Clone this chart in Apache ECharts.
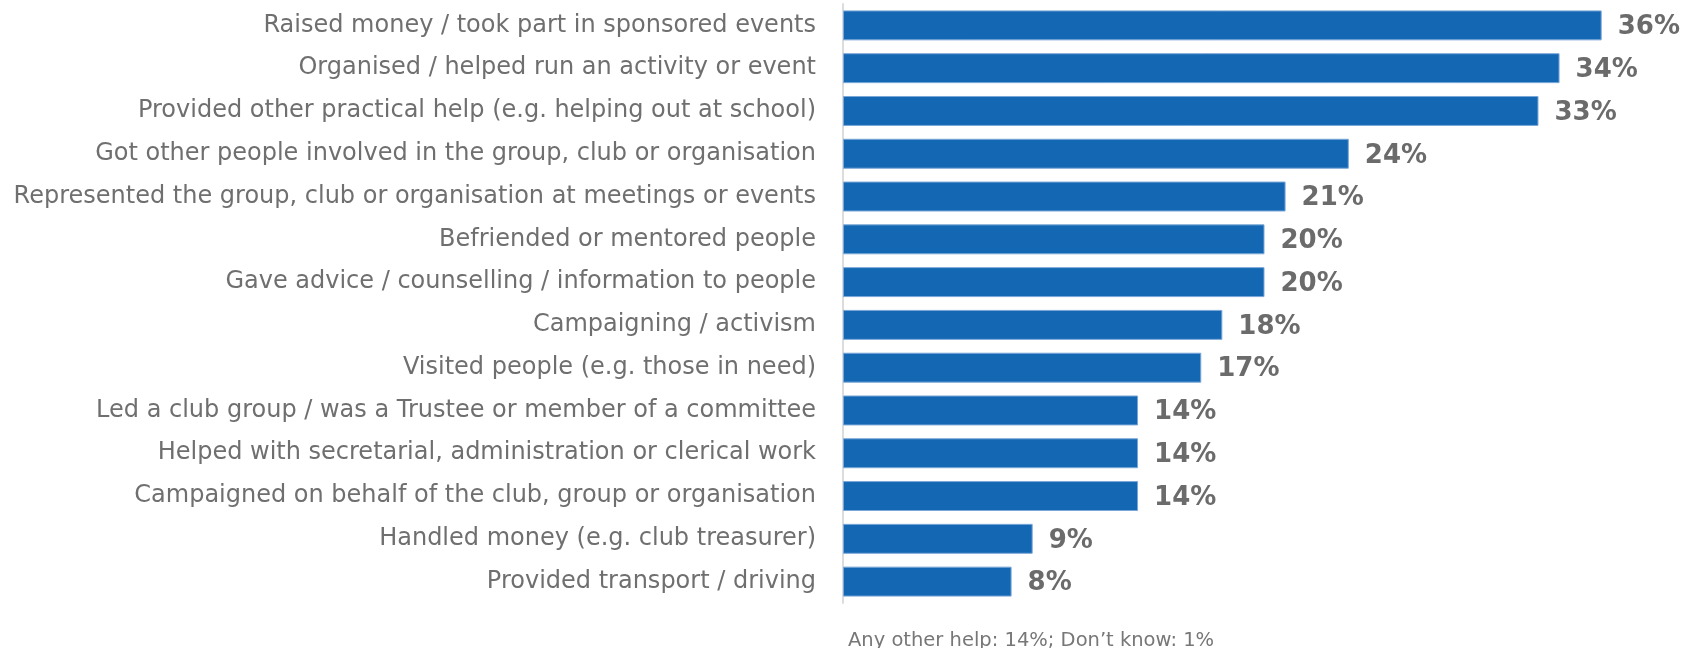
<!DOCTYPE html>
<html>
<head>
<meta charset="utf-8">
<script src="https://cdn.jsdelivr.net/npm/echarts@6/dist/echarts.min.js"></script>
<style>
  html, body { margin: 0; padding: 0; background: #fff; }
  #chart { width: 1688px; height: 648px; }
</style>
</head>
<body>
<div id="chart"></div>
<script>
// Ways of helping, listed top to bottom
const categories = [
  'Raised money / took part in sponsored events',
  'Organised / helped run an activity or event',
  'Provided other practical help (e.g. helping out at school)',
  'Got other people involved in the group, club or organisation',
  'Represented the group, club or organisation at meetings or events',
  'Befriended or mentored people',
  'Gave advice / counselling / information to people',
  'Campaigning / activism',
  'Visited people (e.g. those in need)',
  'Led a club group / was a Trustee or member of a committee',
  'Helped with secretarial, administration or clerical work',
  'Campaigned on behalf of the club, group or organisation',
  'Handled money (e.g. club treasurer)',
  'Provided transport / driving'
];
// Share of respondents (%)
const values = [36, 34, 33, 24, 21, 20, 20, 18, 17, 14, 14, 14, 9, 8];
const footnote = 'Any other help: 14%; Don\u2019t know: 1%';

const chart = echarts.init(document.getElementById('chart'));
chart.setOption({
  animation: false,
  textStyle: { fontFamily: 'DejaVu Sans' },
  grid: { left: 843, right: 2, top: 4, bottom: 45, containLabel: false },
  xAxis: {
    type: 'value', min: 0, max: 40,
    show: false
  },
  yAxis: {
    type: 'category',
    data: categories,
    inverse: true,
    axisLine: { show: true, lineStyle: { color: '#dcdcdc', width: 2 } },
    axisTick: { show: false },
    axisLabel: { color: '#6f6f6f', fontSize: 24, margin: 27, fontFamily: 'DejaVu Sans' }
  },
  series: [{
    type: 'bar',
    data: values,
    barWidth: '70%',
    itemStyle: { color: '#1468b3', borderColor: '#7aa7d8', borderWidth: 1 },
    label: {
      show: true, position: 'right', distance: 16, offset: [0, 2],
      formatter: '{c}%',
      color: '#6b6b6b', fontWeight: 'bold', fontSize: 26, fontFamily: 'DejaVu Sans'
    }
  }],
  graphic: [{
    type: 'text',
    left: 848, top: 631,
    style: { text: footnote, fill: '#777777', fontSize: 19.5, fontFamily: 'DejaVu Sans' }
  }]
});
</script>
</body>
</html>
